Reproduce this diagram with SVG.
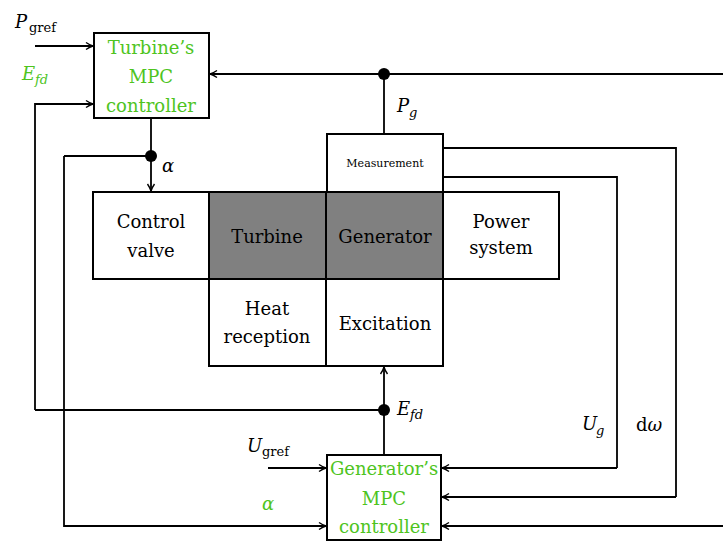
<svg xmlns="http://www.w3.org/2000/svg" width="723" height="541" viewBox="0 0 723 541">
<defs>
<marker id="arr" viewBox="-8 -5 10 10" refX="0" refY="0" markerWidth="10" markerHeight="10" markerUnits="userSpaceOnUse" orient="auto">
<path d="M-7,-3.5 Q-3,-0.8 0,0 Q-3,0.8 -7,3.5" fill="none" stroke="#000" stroke-width="1.4"/>
</marker>
<style>
.box{fill:#fff;stroke:#000;stroke-width:2}
.gray{fill:#808080;stroke:#000;stroke-width:2}
.ln{fill:none;stroke:#000;stroke-width:1.8}
.ar{marker-end:url(#arr)}
text{font-family:'DejaVu Serif', 'Liberation Serif', serif;font-size:18px;fill:#000}
.c{text-anchor:middle}
.g{fill:#4ec41e}
.it{font-style:italic}
.sub{font-size:13px}
.small{font-size:11px}
</style>
</defs>
<g id="connectors">
<path class="ln ar" d="M35,46 H93"/>
<path class="ln ar" d="M35,410 V104 H93"/>
<path class="ln ar" d="M723,74 H210"/>
<path class="ln" d="M384,74 V134"/>
<path class="ln ar" d="M151,118 V191"/>
<path class="ln" d="M151,156 H64"/>
<path class="ln ar" d="M64,156 V526 H326"/>
<path class="ln" d="M443,148 H676 V497"/>
<path class="ln ar" d="M676,497 H442"/>
<path class="ln" d="M443,177 H617 V468"/>
<path class="ln ar" d="M617,468 H442"/>
<path class="ln ar" d="M723,526 H442"/>
<path class="ln ar" d="M268,468 H326"/>
<path class="ln ar" d="M384,455 V367"/>
<path class="ln" d="M35,410 H384"/>
<circle cx="384" cy="74" r="6" fill="#000"/>
<circle cx="151" cy="156" r="6" fill="#000"/>
<circle cx="384" cy="410" r="6" fill="#000"/>
</g>
<g id="turbine-mpc">
<rect class="box" x="94" y="33" width="115" height="85"/>
<text class="c g" x="151" y="54">Turbine’s</text>
<text class="c g" x="151" y="83">MPC</text>
<text class="c g" x="151" y="112">controller</text>
</g>
<g id="measurement">
<rect class="box" x="327" y="134" width="116" height="58"/>
<text class="c small" x="385" y="167">Measurement</text>
</g>
<g id="control-valve">
<rect class="box" x="93" y="192" width="116" height="87"/>
<text class="c" x="151" y="228">Control</text>
<text class="c" x="151" y="257">valve</text>
</g>
<g id="turbine">
<rect class="gray" x="209" y="192" width="117" height="87"/>
<text class="c" x="267" y="243">Turbine</text>
</g>
<g id="generator">
<rect class="gray" x="326" y="192" width="117" height="87"/>
<text class="c" x="385" y="243">Generator</text>
</g>
<g id="power-system">
<rect class="box" x="443" y="192" width="116" height="87"/>
<text class="c" x="501" y="228">Power</text>
<text class="c" x="501" y="254">system</text>
</g>
<g id="heat-reception">
<rect class="box" x="209" y="279" width="117" height="87"/>
<text class="c" x="267" y="315">Heat</text>
<text class="c" x="267" y="343">reception</text>
</g>
<g id="excitation">
<rect class="box" x="326" y="279" width="117" height="87"/>
<text class="c" x="385" y="330">Excitation</text>
</g>
<g id="generator-mpc">
<rect class="box" x="327" y="455" width="114" height="85"/>
<text class="c g" x="384" y="475">Generator’s</text>
<text class="c g" x="384" y="505">MPC</text>
<text class="c g" x="384" y="533">controller</text>
</g>
<g id="labels">
<text x="15" y="28" class="it" font-size="19">P</text><text x="29" y="32" class="sub">gref</text>
<text x="22" y="80" class="it g">E</text><text x="35" y="84" class="it sub g">fd</text>
<text x="162" y="172" class="it">α</text>
<text x="397" y="112" class="it">P</text><text x="409" y="117" class="it sub">g</text>
<text x="397" y="415" class="it">E</text><text x="410" y="419" class="it sub">fd</text>
<text x="582" y="430" class="it">U</text><text x="596" y="435" class="it sub">g</text>
<text x="636" y="431">d<tspan class="it">ω</tspan></text>
<text x="247" y="452" class="it">U</text><text x="262" y="456" class="sub">gref</text>
<text x="262" y="510" class="it g">α</text>
</g>
</svg>
